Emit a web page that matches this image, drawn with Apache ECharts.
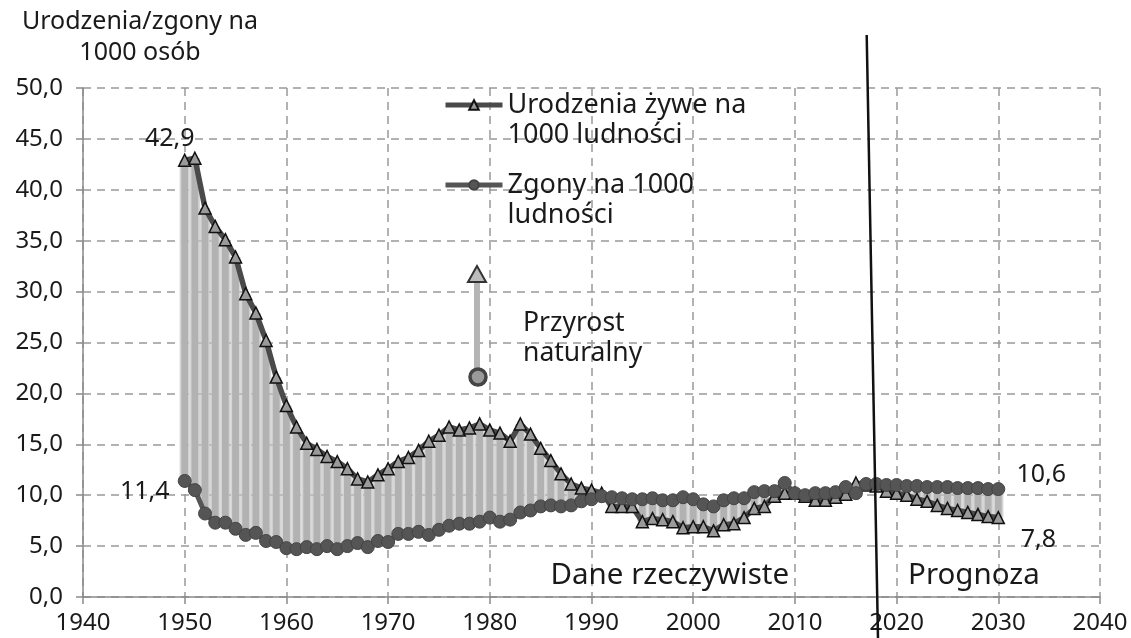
<!DOCTYPE html>
<html><head><meta charset="utf-8">
<script src="https://cdn.jsdelivr.net/npm/echarts@6/dist/echarts.min.js"></script>
<style>html,body{margin:0;padding:0;background:#fff}#c{width:1131px;height:638px}</style>
</head><body><div id="c"></div>
<script>
const years = [1950,1951,1952,1953,1954,1955,1956,1957,1958,1959,
  1960,1961,1962,1963,1964,1965,1966,1967,1968,1969,
  1970,1971,1972,1973,1974,1975,1976,1977,1978,1979,
  1980,1981,1982,1983,1984,1985,1986,1987,1988,1989,
  1990,1991,1992,1993,1994,1995,1996,1997,1998,1999,
  2000,2001,2002,2003,2004,2005,2006,2007,2008,2009,
  2010,2011,2012,2013,2014,2015,2016,2017,2018,2019,
  2020,2021,2022,2023,2024,2025,2026,2027,2028,2029,2030];
const birthRate = [42.9,43.1,38.2,36.4,35.1,33.4,29.8,27.9,25.2,21.6,
  18.8,16.7,15.1,14.5,13.8,13.3,12.6,11.6,11.3,12.0,
  12.6,13.3,13.7,14.4,15.3,15.9,16.7,16.4,16.6,17.0,
  16.4,16.1,15.3,17.0,16.0,14.6,13.4,12.1,11.1,10.7,
  10.5,10.2,8.9,8.9,8.9,7.4,7.7,7.6,7.4,6.8,
  6.9,6.9,6.5,7.1,7.2,7.8,8.7,8.9,9.9,10.2,
  10.2,9.9,9.5,9.5,9.8,10.1,11.2,11.0,10.9,10.4,
  10.2,10.0,9.6,9.4,9.0,8.7,8.5,8.3,8.1,7.9,7.8];
const deathRate = [11.4,10.5,8.2,7.3,7.3,6.7,6.1,6.3,5.5,5.4,
  4.8,4.7,4.9,4.7,5.0,4.7,5.0,5.3,4.9,5.5,
  5.4,6.2,6.2,6.4,6.1,6.6,7.0,7.2,7.2,7.4,
  7.8,7.4,7.6,8.3,8.5,8.9,9.0,8.9,9.0,9.4,
  9.6,9.9,9.8,9.7,9.6,9.6,9.7,9.5,9.5,9.8,
  9.6,9.1,8.9,9.5,9.7,9.7,10.3,10.4,10.4,11.2,
  10.2,10.0,10.2,10.2,10.3,10.8,10.2,11.1,11.1,11.0,
  11.0,10.9,10.9,10.8,10.8,10.8,10.7,10.7,10.7,10.6,10.6];
const birthName = 'Urodzenia żywe na\n1000 ludności';
const deathName = 'Zgony na 1000\nludności';
const axisTitle = 'Urodzenia/zgony na\n1000 osób';
const periodLabels = ['Dane rzeczywiste', 'Prognoza'];
const noteText = 'Przyrost\nnaturalny';

const FONT = 'Noto Sans';
const fmt = v => v.toFixed(1).replace('.', ',');

// labelled points: index -> label offset
const labelSpec = {
  birth: {0: [-15, -21], 80: [40, 22]},
  death: {0: [-40, 11], 80: [43, -14]}
};
function buildData(vals, key) {
  return years.map((y, i) => {
    const off = labelSpec[key][i];
    if (!off) return [y, vals[i]];
    return {value: [y, vals[i]], label: {show: true, position: 'inside', offset: off,
      formatter: p => fmt(p.value[1]), fontSize: 25, color: '#1a1a1a', fontFamily: FONT}};
  });
}

const chart = echarts.init(document.getElementById('c'), null, {renderer: 'canvas'});
const legendBase = {
  orient: 'vertical', left: 443, padding: 0, itemWidth: 57, itemHeight: 12,
  formatter: name => '\u00a0\n' + name,
  lineStyle: {width: 5},
  textStyle: {fontSize: 27, lineHeight: 30, color: '#1a1a1a', fontFamily: FONT}
};
chart.setOption({
  animation: false,
  textStyle: {fontFamily: FONT},
  grid: {left: 83, right: 31, top: 88, bottom: 41, containLabel: false, outerBoundsMode: 'none'},
  legend: [
    Object.assign({data: [birthName], top: 60}, legendBase),
    Object.assign({data: [deathName], top: 140}, legendBase)
  ],
  xAxis: {
    type: 'value', min: 1940, max: 2040, interval: 10,
    axisLine: {show: true, lineStyle: {color: '#8a8a8a', width: 1.5}},
    axisTick: {show: true, length: 7, lineStyle: {color: '#8a8a8a', width: 1.5}},
    axisLabel: {fontSize: 24, color: '#1a1a1a', margin: 14, fontFamily: FONT, formatter: v => String(v)},
    splitLine: {show: true, lineStyle: {color: '#999', type: [8, 6], width: 1.5}}
  },
  yAxis: {
    type: 'value', min: 0, max: 50, interval: 5,
    name: axisTitle, nameLocation: 'end', nameGap: 20,
    nameTextStyle: {fontSize: 25, lineHeight: 31, color: '#1a1a1a', align: 'center',
      verticalAlign: 'bottom', padding: [0, 0, 0, 114], fontFamily: FONT},
    axisLine: {show: true, lineStyle: {color: '#8a8a8a', width: 1.5}},
    axisTick: {show: true, length: 7, lineStyle: {color: '#8a8a8a', width: 1.5}},
    axisLabel: {fontSize: 24, color: '#1a1a1a', margin: 20, formatter: fmt, fontFamily: FONT},
    splitLine: {show: true, lineStyle: {color: '#999', type: [8, 6], width: 1.5}}
  },
  series: [
    {
      type: 'custom', name: 'gap', silent: true, z: 1,
      data: years.map((y, i) => [y, birthRate[i], deathRate[i]]),
      encode: {x: 0, y: [1, 2]},
      renderItem: function (params, api) {
        const x = api.value(0);
        const p1 = api.coord([x, api.value(1)]);
        const p2 = api.coord([x, api.value(2)]);
        const step = api.size([1, 0])[0];
        const top = Math.min(p1[1], p2[1]);
        const h = Math.abs(p1[1] - p2[1]);
        return {type: 'group', children: [
          {type: 'rect', shape: {x: p1[0] - step / 2, y: top, width: step, height: h},
            style: {fill: 'rgba(195,195,195,0.7)'}},
          {type: 'rect', shape: {x: p1[0] - 3.4, y: top, width: 6.8, height: h},
            style: {fill: '#b2b2b2'}}
        ]};
      }
    },
    {
      type: 'line', name: birthName, z: 3,
      data: buildData(birthRate, 'birth'),
      symbol: 'triangle', symbolSize: 12,
      lineStyle: {color: '#4a4a4a', width: 5.5},
      itemStyle: {color: '#9a9a9a', borderColor: '#111', borderWidth: 1.5}
    },
    {
      type: 'line', name: deathName, z: 4,
      data: buildData(deathRate, 'death'),
      symbol: 'circle', symbolSize: 13,
      lineStyle: {color: '#555', width: 5},
      itemStyle: {color: '#555', borderColor: '#444', borderWidth: 1}
    }
  ]
});

const toPx = (x, y) => chart.convertToPixel({gridIndex: 0}, [x, y]);
const lTop = toPx(2017.06, 55.2);
const lBot = toPx(2018.17, -4.03);
const t1 = toPx(1997.7, 2.1);
const t2 = toPx(2027.6, 2.1);
chart.setOption({
  graphic: [
    {type: 'line', z: 10, shape: {x1: lTop[0], y1: lTop[1], x2: lBot[0], y2: lBot[1]},
      style: {stroke: '#111', lineWidth: 2.5}},
    {type: 'text', z: 10, x: t1[0], y: t1[1], style: {text: periodLabels[0], fontSize: 29.5,
      fontFamily: FONT, fill: '#1a1a1a', align: 'center', verticalAlign: 'middle'}},
    {type: 'text', z: 10, x: t2[0], y: t2[1], style: {text: periodLabels[1], fontSize: 29.5,
      fontFamily: FONT, fill: '#1a1a1a', align: 'center', verticalAlign: 'middle'}},
    {type: 'line', z: 10, shape: {x1: 477, y1: 281, x2: 477, y2: 370},
      style: {stroke: '#b5b5b5', lineWidth: 6}},
    {type: 'polygon', z: 11, shape: {points: [[477, 266], [468, 282], [486, 282]]},
      style: {fill: '#bcbcbc', stroke: '#333', lineWidth: 2}},
    {type: 'circle', z: 11, shape: {cx: 478, cy: 377, r: 8},
      style: {fill: '#9a9a9a', stroke: '#444', lineWidth: 3.5}},
    {type: 'text', z: 10, x: 523, y: 338, style: {text: noteText, fontSize: 26.5, lineHeight: 30,
      fontFamily: FONT, fill: '#1a1a1a', align: 'left', verticalAlign: 'middle'}}
  ]
});
</script></body></html>
